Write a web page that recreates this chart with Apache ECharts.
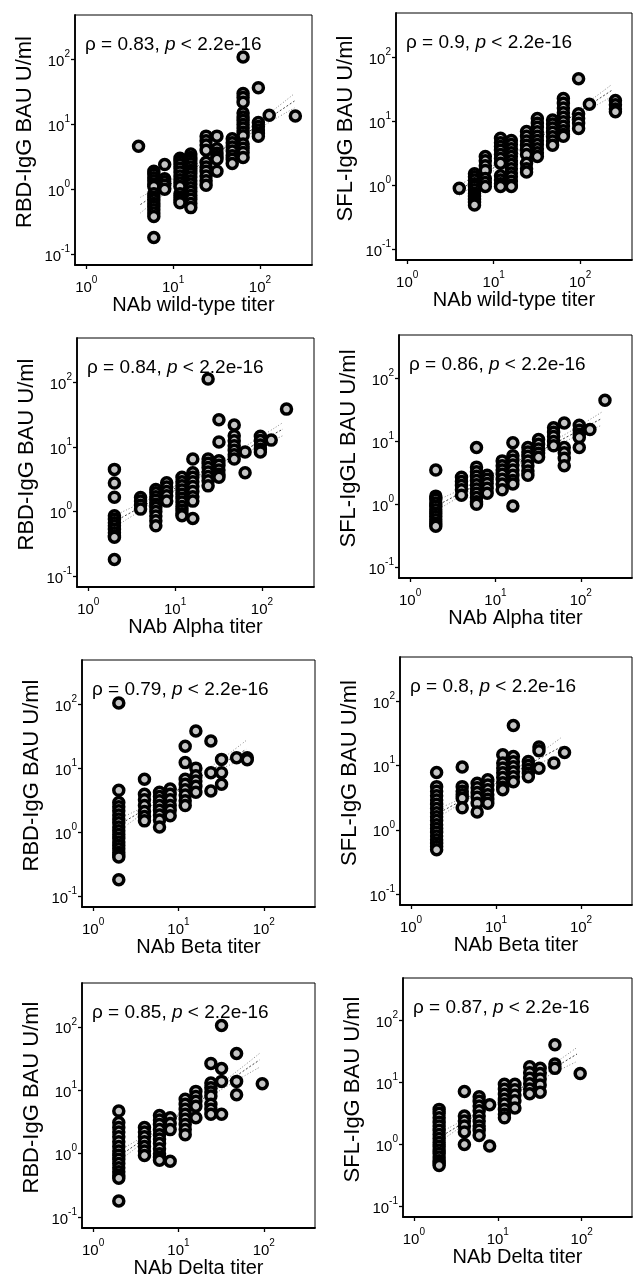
<!DOCTYPE html>
<html>
<head>
<meta charset="utf-8">
<script src="https://cdn.jsdelivr.net/npm/echarts@6/dist/echarts.min.js"></script>
<style>
  html, body { margin: 0; padding: 0; background: #fff; }
  #chart { width: 634px; height: 1283px; }
</style>
</head>
<body>
<div id="chart"></div>
<script>
// Antibody level (BAU U/ml) per neutralising titer column: [titer, [values...]]
const rbdWildType = [
  [4, [4.6]],
  [6, [1.9, 1.7, 1.5, 1.35, 1.2, 1.1, 0.85, 0.75, 0.68, 0.6, 0.54, 0.48, 0.43, 0.38, 0.18]],
  [8, [2.4, 1.45, 1.3, 1.15, 1.0]],
  [12, [3.0, 2.7, 2.4, 2.1, 1.85, 1.6, 1.4, 1.25, 1.1, 0.85, 0.75, 0.68, 0.62]],
  [16, [3.5, 3.1, 2.8, 2.5, 2.2, 1.95, 1.75, 1.55, 1.35, 1.2, 1.05, 0.92, 0.8, 0.7, 0.6, 0.52]],
  [24, [6.6, 5.6, 4.8, 4.0, 2.6, 2.2, 1.9, 1.6, 1.35, 1.15]],
  [32, [6.6, 4.2, 3.6, 3.2, 2.9, 1.9]],
  [48, [6.0, 5.2, 4.5, 3.9, 3.3, 2.9, 2.5]],
  [64, [110, 30, 26, 22, 15, 13, 11.5, 10, 8.8, 7.6, 6.7, 5, 4.3, 3.7, 3.1]],
  [96, [37, 10.7, 9.3, 8.2, 7.3, 6.6]],
  [128, [13.9]],
  [256, [13.5]]
];
const sflWildType = [
  [4, [0.89]],
  [6, [1.5, 1.35, 1.2, 1.05, 0.95, 0.85, 0.75, 0.67, 0.6, 0.54, 0.49]],
  [8, [2.8, 2.4, 2.0, 1.7, 1.27, 1.1, 0.95]],
  [12, [5.4, 4.6, 4.0, 3.5, 3.0, 2.6, 2.2, 1.4, 1.2, 1.05, 0.95]],
  [16, [5.0, 4.3, 3.7, 3.2, 2.8, 2.4, 2.1, 1.8, 1.55, 1.35, 1.15, 1.0, 0.95]],
  [24, [6.9, 5.8, 4.9, 4.2, 3.6, 3.0, 2.2, 1.8, 1.6]],
  [32, [11, 9.3, 8.0, 6.8, 5.8, 5.0, 4.3, 3.7, 3.2, 2.8]],
  [48, [10.4, 9.0, 7.8, 6.7, 5.7, 4.9, 4.2]],
  [64, [22.6, 19, 16, 13.5, 11.5, 9.8, 8.3, 7.1, 6.2, 5.8]],
  [96, [46, 13, 11, 9.3, 7.7]],
  [128, [18.4]],
  [256, [21, 18, 15.5, 14]]
];
const rbdAlpha = [
  [2, [4.5, 2.76, 1.67, 0.86, 0.76, 0.67, 0.6, 0.53, 0.47, 0.42, 0.4, 0.18]],
  [4, [1.65, 1.45, 1.25, 1.09]],
  [6, [2.2, 1.95, 1.7, 1.5, 1.3, 1.15, 1.0, 0.85, 0.72, 0.6]],
  [8, [2.8, 2.4, 2.05, 1.75, 1.45]],
  [12, [3.4, 2.9, 2.5, 2.15, 1.85, 1.6, 1.4, 1.2, 1.05, 0.92, 0.86]],
  [16, [6.5, 4.0, 3.4, 2.9, 2.45, 2.05, 1.7, 1.45, 0.78]],
  [24, [113, 6.5, 5.6, 4.8, 4.1, 3.5, 3.0, 2.5]],
  [32, [26.5, 12, 6.1, 5.2, 4.4, 3.8, 3.4]],
  [48, [21.9, 15, 12.5, 10.5, 8.9, 7.6, 6.5]],
  [64, [8.4, 4.0]],
  [96, [14.7, 12.6, 10.7, 9.2, 8.4]],
  [128, [12.8]],
  [192, [38.7]]
];
const sflAlpha = [
  [2, [3.5, 1.35, 1.2, 1.05, 0.93, 0.82, 0.72, 0.64, 0.57, 0.5, 0.45]],
  [4, [2.7, 2.3, 2.0, 1.7, 1.4]],
  [6, [8, 3.9, 3.3, 2.8, 2.4, 2.05, 1.75, 1.5, 1.28, 1.1, 1.0]],
  [8, [2.9, 2.5, 2.15, 1.8, 1.5]],
  [12, [4.9, 4.1, 3.5, 3.0, 2.5, 2.1, 1.7]],
  [16, [9.5, 5.9, 5.0, 4.2, 3.5, 2.9, 2.4, 2.1, 0.94]],
  [24, [8, 6.8, 5.8, 4.9, 4.1, 3.4, 2.9]],
  [32, [10.7, 9.0, 7.6, 6.5, 5.6]],
  [48, [16.4, 14, 12, 10, 8.5]],
  [64, [19.6, 8, 6.6, 5.4, 4.1]],
  [96, [18, 15, 13, 11.5, 8]],
  [128, [15.4]],
  [192, [45]]
];
const rbdBeta = [
  [2, [104, 4.5, 2.9, 2.5, 2.15, 1.85, 1.6, 1.4, 1.2, 1.05, 0.92, 0.8, 0.7, 0.62, 0.55, 0.48, 0.44, 0.41, 0.18]],
  [4, [6.7, 3.9, 3.2, 2.6, 2.1, 1.75, 1.5]],
  [6, [4.2, 3.6, 3.1, 2.6, 2.2, 1.85, 1.55, 1.2]],
  [8, [4.7, 3.9, 3.2, 2.6, 2.2, 1.8]],
  [12, [22, 12.2, 6.7, 5.6, 4.6, 3.8, 3.1, 2.6]],
  [16, [38, 10, 7.6, 6.3, 5.2, 4.2]],
  [24, [26.5, 8.5, 4.4]],
  [32, [13.7, 8.5, 5.6]],
  [48, [14.5]],
  [64, [14.5, 13.5]]
];
const sflBeta = [
  [2, [7.8, 4.7, 4.0, 3.4, 2.9, 2.5, 2.15, 1.85, 1.6, 1.4, 1.2, 1.05, 0.92, 0.8, 0.7, 0.62, 0.55, 0.49]],
  [4, [9.5, 4.7, 4.0, 3.5, 3.1, 2.2]],
  [6, [5.3, 4.5, 3.8, 3.2, 2.6, 1.9]],
  [8, [6.0, 5.0, 4.2, 3.5, 3.0, 2.6]],
  [12, [14.7, 11, 9.2, 7.7, 6.5, 5.4, 4.6, 4.2]],
  [16, [42, 13.8, 11.5, 9.6, 8.0, 6.7, 5.6]],
  [24, [11.6, 10, 8.7, 7.6, 6.7]],
  [32, [19.5, 17, 9.1]],
  [48, [11]],
  [64, [16]]
];
const rbdDelta = [
  [2, [4.7, 3.1, 2.6, 2.2, 1.85, 1.55, 1.3, 1.1, 0.95, 0.82, 0.7, 0.6, 0.52, 0.46, 0.41, 0.18]],
  [4, [2.6, 2.2, 1.85, 1.55, 1.3, 1.1, 0.94]],
  [6, [4.0, 3.4, 2.9, 2.4, 2.0, 1.7, 1.45, 1.2, 1.0, 0.88, 0.79]],
  [8, [3.7, 3.0, 2.4, 0.76]],
  [12, [7.2, 6.0, 5.0, 4.2, 3.5, 2.9, 2.4, 2.0]],
  [16, [9.6, 8.0, 6.7, 5.6, 3.7]],
  [24, [26.5, 13, 11, 9.4, 8.1, 6.0, 5.0, 4.2]],
  [32, [105, 22, 13.8, 4.2]],
  [48, [38, 13.8, 8.5]],
  [96, [12.7]]
];
const sflDelta = [
  [2, [3.7, 3.2, 2.7, 2.3, 2.0, 1.7, 1.45, 1.25, 1.08, 0.94, 0.82, 0.72, 0.63, 0.55, 0.5, 0.46]],
  [4, [7.2, 2.9, 2.4, 2.0, 1.6, 1.0]],
  [6, [5.9, 5.0, 4.2, 3.5, 2.9, 2.4, 2.0, 1.7, 1.4]],
  [8, [4.4, 0.95]],
  [12, [9.4, 7.8, 6.5, 5.4, 4.5, 3.7, 3.1, 2.7]],
  [16, [9.4, 7.7, 6.3, 5.1, 3.9]],
  [24, [18, 14.5, 11.8, 9.6, 7.9, 6.6]],
  [32, [17, 14, 11.5, 9.2, 7.0]],
  [48, [41, 20, 17]],
  [96, [14]]
];

// Regression fits: [[x, y] start, [x, y] end]; confidence band edges as [x, y] points
const fitLines = [
  [[4.2, 0.58], [250, 23]],
  [[4, 0.83], [230, 30]],
  [[2.2, 0.75], [175, 19]],
  [[2.2, 1.0], [175, 23]],
  [[2.4, 1.5], [62, 19.6]],
  [[2.4, 2.0], [60, 20]],
  [[2.1, 0.95], [89, 30]],
  [[2.2, 1.4], [88, 29]]
];
const bandUpper = [
  [[4.2, 0.75], [30, 3.65], [250, 30]],
  [[4, 1.0], [30, 5.2], [230, 37]],
  [[2.2, 0.92], [20, 4.1], [175, 24]],
  [[2.2, 1.2], [20, 5.2], [175, 29]],
  [[2.4, 1.8], [12, 5.7], [62, 27]],
  [[2.4, 2.3], [12, 6.7], [60, 28]],
  [[2.1, 1.15], [12, 5.0], [89, 38]],
  [[2.2, 1.65], [12, 6.0], [88, 37]]
];
const bandLower = [
  [[4.2, 0.43], [30, 3.15], [250, 18]],
  [[4, 0.68], [30, 4.6], [230, 24]],
  [[2.2, 0.62], [20, 3.6], [175, 15]],
  [[2.2, 0.85], [20, 4.6], [175, 18]],
  [[2.4, 1.25], [12, 5.0], [62, 14.5]],
  [[2.4, 1.75], [12, 6.0], [60, 15]],
  [[2.1, 0.8], [12, 4.45], [89, 23]],
  [[2.2, 1.2], [12, 5.3], [88, 22]]
];

const rhoValues = ['0.83', '0.9', '0.84', '0.86', '0.79', '0.8', '0.85', '0.87'];
const pValueText = '2.2e-16';
const yTitles = ['RBD-IgG BAU U/ml', 'SFL-IgG BAU U/ml', 'RBD-IgG BAU U/ml', 'SFL-IgGL BAU U/ml',
                 'RBD-IgG BAU U/ml', 'SFL-IgG BAU U/ml', 'RBD-IgG BAU U/ml', 'SFL-IgG BAU U/ml'];
const xTitles = ['NAb wild-type titer', 'NAb wild-type titer', 'NAb Alpha titer', 'NAb Alpha titer',
                 'NAb Beta titer', 'NAb Beta titer', 'NAb Delta titer', 'NAb Delta titer'];
const xTickValues = [1, 10, 100];
const yTickValues = [0.1, 1, 10, 100];

const panelData = [rbdWildType, sflWildType, rbdAlpha, sflAlpha, rbdBeta, sflBeta, rbdDelta, sflDelta];

// Plot boxes [left, top, width, height] in px
const boxes = [
  [75, 15, 237, 250],
  [396, 13, 236, 247],
  [77, 338, 237, 249],
  [399, 335, 233, 243],
  [82, 660, 233, 247],
  [400, 657, 232, 248],
  [82, 983, 233, 245],
  [403, 978, 229, 239]
];
// Log10 extents of the axes
const X_EXP = [-0.13, 2.6];
const Y_EXP = [-1.17, 2.69];

const FONT = '"Liberation Sans", Arial, sans-serif';

function flatten(cols) {
  const out = [];
  cols.forEach(([x, ys]) => ys.forEach(y => out.push([x, y])));
  return out;
}

const tickRich = {
  b: { fontSize: 15, fontFamily: FONT, color: '#000', lineHeight: 20, verticalAlign: 'bottom' },
  s: { fontSize: 10, fontFamily: FONT, color: '#000', verticalAlign: 'top', lineHeight: 12 }
};
const powerLabel = v => '{b|10}{s|' + Math.round(Math.log10(v)) + '}';

const grids = [], xAxes = [], yAxes = [], series = [], graphics = [];

boxes.forEach((b, i) => {
  const [left, top, width, height] = b;
  grids.push({
    left, top, width, height,
    show: true, borderColor: '#000', borderWidth: 1, backgroundColor: 'transparent'
  });
  xAxes.push({
    gridIndex: i, type: 'log', logBase: 10,
    min: Math.pow(10, X_EXP[0]), max: Math.pow(10, X_EXP[1]),
    axisLine: { show: true, onZero: false, lineStyle: { color: '#000', width: 1.8 } },
    axisTick: { show: true, customValues: xTickValues, length: 4, lineStyle: { color: '#000', width: 1.3 } },
    axisLabel: { customValues: xTickValues, formatter: powerLabel, rich: tickRich, margin: 10 },
    minorTick: { show: false },
    splitLine: { show: false },
    name: xTitles[i], nameLocation: 'middle', nameGap: 28,
    nameTextStyle: { fontSize: 20, fontFamily: FONT, color: '#000' }
  });
  yAxes.push({
    gridIndex: i, type: 'log', logBase: 10,
    min: Math.pow(10, Y_EXP[0]), max: Math.pow(10, Y_EXP[1]),
    axisLine: { show: true, onZero: false, lineStyle: { color: '#000', width: 1.8 } },
    axisTick: { show: true, customValues: yTickValues, length: 4, lineStyle: { color: '#000', width: 1.3 } },
    axisLabel: { customValues: yTickValues, formatter: powerLabel, rich: tickRich, margin: 5 },
    splitLine: { show: false },
    name: yTitles[i], nameLocation: 'middle', nameGap: 39,
    nameTextStyle: { fontSize: 22, fontFamily: FONT, color: '#000', padding: [0, 0, 0, 16] }
  });

  // confidence band edges
  [bandUpper[i], bandLower[i]].forEach(edge => {
    series.push({
      type: 'line', xAxisIndex: i, yAxisIndex: i, data: edge, smooth: true,
      showSymbol: false, silent: true, z: 1,
      lineStyle: { color: '#888', width: 1, type: [1, 2] }
    });
  });
  // fitted line
  series.push({
    type: 'line', xAxisIndex: i, yAxisIndex: i, data: fitLines[i],
    showSymbol: false, silent: true, z: 2,
    lineStyle: { color: '#444', width: 1, type: [2, 2] }
  });
  // observations
  series.push({
    type: 'scatter', xAxisIndex: i, yAxisIndex: i, data: flatten(panelData[i]),
    symbol: 'circle', symbolSize: 10, z: 3,
    itemStyle: { color: '#c4c4c4', borderColor: '#000', borderWidth: 3.5, opacity: 1 }
  });

  graphics.push({
    type: 'text', left: left + 10, top: top + 20, z: 10,
    style: {
      text: '{n|ρ = ' + rhoValues[i] + ', }{i|p}{n| < ' + pValueText + '}',
      rich: {
        n: { fontSize: 19, fontFamily: FONT, fill: '#000' },
        i: { fontSize: 19, fontFamily: FONT, fontStyle: 'italic', fill: '#000' }
      }
    }
  });
});

const chart = echarts.init(document.getElementById('chart'), null, { renderer: 'canvas' });
chart.setOption({
  backgroundColor: '#fff',
  animation: false,
  grid: grids,
  xAxis: xAxes,
  yAxis: yAxes,
  series,
  graphic: graphics
});
</script>
</body>
</html>
